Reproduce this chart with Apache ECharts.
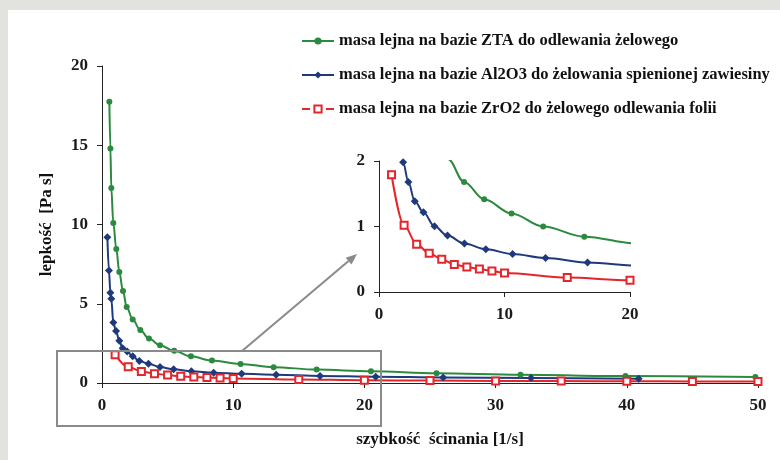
<!DOCTYPE html>
<html>
<head>
<meta charset="utf-8">
<script src="https://cdn.jsdelivr.net/npm/echarts@6/dist/echarts.min.js"></script>
<style>
  html, body { margin: 0; padding: 0; background: #e2e2df; }
  #chart { width: 780px; height: 460px; }
</style>
</head>
<body>
<div id="chart"></div>
<script>
// nazwy serii
const names = [
  'masa lejna na bazie ZTA do odlewania żelowego',
  'masa lejna na bazie Al2O3 do żelowania spienionej zawiesiny',
  'masa lejna na bazie ZrO2 do żelowego odlewania folii'
];

// ZTA (zielona)
const ztaX = [0.56, 0.64, 0.71, 0.86, 1.09, 1.32, 1.6, 1.88, 2.34, 2.92, 3.58, 4.42, 5.5, 6.78, 8.38, 10.56, 13.08, 16.36, 20.5, 25.5, 31.9, 39.9, 49.8];
const ztaY = [17.75, 14.8, 12.3, 10.1, 8.45, 7.0, 5.8, 4.8, 4.0, 3.34, 2.8, 2.38, 2.03, 1.68, 1.415, 1.2, 1.0, 0.845, 0.74, 0.62, 0.52, 0.44, 0.38];

// Al2O3 (niebieska)
const alX = [0.41, 0.53, 0.64, 0.71, 0.86, 1.07, 1.32, 1.57, 1.92, 2.34, 2.85, 3.54, 4.42, 5.46, 6.81, 8.51, 10.64, 13.27, 16.62, 20.86, 26.0, 32.7, 40.9];
const alY = [9.19, 7.09, 5.7, 5.32, 3.81, 3.28, 2.67, 2.19, 1.98, 1.68, 1.385, 1.217, 1.003, 0.861, 0.739, 0.652, 0.58, 0.519, 0.449, 0.4, 0.35, 0.31, 0.27];

// ZrO2 (czerwona)
const zrX = [1, 2, 3, 4, 5, 6, 7, 8, 9, 10, 15, 20, 25, 30, 35, 40, 45, 50];
const zrY = [1.79, 1.02, 0.73, 0.59, 0.5, 0.42, 0.38, 0.35, 0.32, 0.29, 0.22, 0.18, 0.15, 0.13, 0.12, 0.11, 0.1, 0.09];

const colors = ['#2b8a3e', '#1f3a7c', '#e3262b'];
const font = 'Liberation Serif';

const zip = (xs, ys) => xs.map((x, i) => [x, ys[i]]);

const chartInstance = echarts.init(document.getElementById('chart'));

const axisBase = {
  type: 'value',
  splitLine: { show: false },
  axisLine: { show: true, lineStyle: { color: '#222', width: 1 } },
  axisTick: { show: true, length: 5, lineStyle: { color: '#222' } },
  axisLabel: { fontFamily: font, fontWeight: 'bold', fontSize: 17, color: '#1a1a1a', margin: 14 }
};

const makeSeries = (axisIdx) => [
  {
    name: names[0], type: 'line', xAxisIndex: axisIdx, yAxisIndex: axisIdx,
    data: zip(ztaX, ztaY), smooth: 0.35, smoothMonotone: 'x',
    symbol: 'circle', symbolSize: 6,
    lineStyle: { color: colors[0], width: 2 }, itemStyle: { color: colors[0] }
  },
  {
    name: names[1], type: 'line', xAxisIndex: axisIdx, yAxisIndex: axisIdx,
    data: zip(alX, alY), smooth: 0.35, smoothMonotone: 'x',
    symbol: 'diamond', symbolSize: 8,
    lineStyle: { color: colors[1], width: 2 }, itemStyle: { color: colors[1] }
  },
  {
    name: names[2], type: 'line', xAxisIndex: axisIdx, yAxisIndex: axisIdx,
    data: zip(zrX, zrY), smooth: 0.35, smoothMonotone: 'x',
    symbol: 'emptyRect', symbolSize: 7,
    lineStyle: { color: colors[2], width: 2 }, itemStyle: { color: colors[2], borderWidth: 1.5 }
  }
];

// strzałka od prostokąta do powiększenia
const arrowFrom = [242, 351];
const arrowTo = [357, 254];
const dx = arrowTo[0] - arrowFrom[0], dy = arrowTo[1] - arrowFrom[1];
const len = Math.sqrt(dx * dx + dy * dy);
const ux = dx / len, uy = dy / len;
const base = [arrowTo[0] - 11 * ux, arrowTo[1] - 11 * uy];

const option = {
  animation: false,
  backgroundColor: '#e2e2df',
  graphic: [
    { type: 'rect', z: -10, shape: { x: 8, y: 10, width: 772, height: 450 }, style: { fill: '#ffffff' } },
    { type: 'rect', z: 5, shape: { x: 57, y: 351, width: 324, height: 75 }, style: { fill: 'none', stroke: '#8a8a8a', lineWidth: 2 } },
    { type: 'line', z: 5, shape: { x1: arrowFrom[0], y1: arrowFrom[1], x2: base[0], y2: base[1] }, style: { stroke: '#8a8a8a', lineWidth: 2 } },
    { type: 'polygon', z: 5, shape: { points: [arrowTo, [base[0] + 4.5 * -uy, base[1] + 4.5 * ux], [base[0] - 4.5 * -uy, base[1] - 4.5 * ux]] }, style: { fill: '#8a8a8a' } }
  ],
  legend: {
    orient: 'vertical',
    left: 296,
    top: 27,
    itemWidth: 32,
    itemHeight: 9,
    itemGap: 16,
    textStyle: { fontFamily: font, fontWeight: 'bold', fontSize: 16.5, color: '#111', lineHeight: 18 },
    data: [
      { name: names[0] },
      { name: names[1] },
      { name: names[2], lineStyle: { type: 'dashed' } }
    ]
  },
  grid: [
    { left: 102, right: 22, top: 66, bottom: 77 },
    { left: 379, right: 150, top: 161, bottom: 168 }
  ],
  xAxis: [
    Object.assign({}, axisBase, {
      gridIndex: 0, min: 0, max: 50, interval: 10,
      name: 'szybkość  ścinania [1/s]', nameLocation: 'middle', nameGap: 48,
      nameTextStyle: { fontFamily: font, fontWeight: 'bold', fontSize: 17, color: '#111', padding: [0, 0, 0, 20] }
    }),
    Object.assign({}, axisBase, { gridIndex: 1, min: 0, max: 20, interval: 10 })
  ],
  yAxis: [
    Object.assign({}, axisBase, {
      gridIndex: 0, min: 0, max: 20, interval: 5,
      name: 'lepkość  [Pa s]', nameLocation: 'middle', nameGap: 47,
      nameTextStyle: { fontFamily: font, fontWeight: 'bold', fontSize: 17, color: '#111' }
    }),
    Object.assign({}, axisBase, { gridIndex: 1, min: 0, max: 2, interval: 1 })
  ],
  series: makeSeries(0).concat(makeSeries(1))
};

chartInstance.setOption(option);
</script>
</body>
</html>
